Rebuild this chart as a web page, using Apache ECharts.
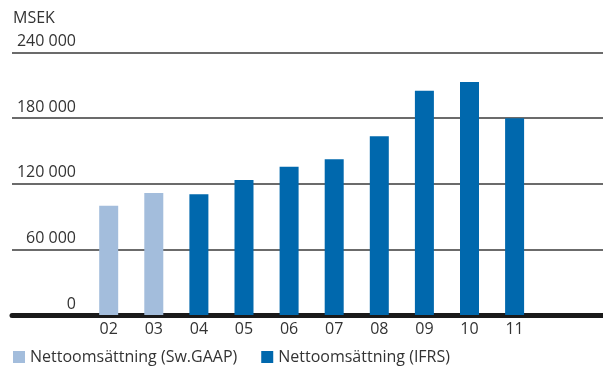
<!DOCTYPE html>
<html>
<head>
<meta charset="utf-8">
<script src="https://cdn.jsdelivr.net/npm/echarts@6/dist/echarts.min.js"></script>
<style>
  html, body { margin: 0; padding: 0; background: #fff; }
  #chart { width: 603px; height: 368px; }
</style>
</head>
<body>
<div id="chart"></div>
<script>
// Net sales per year, MSEK
const years = ['02', '03', '04', '05', '06', '07', '08', '09', '10', '11'];
const salesSwGaap = [100000, 111500, null, null, null, null, null, null, null, null];
const salesIfrs = [null, null, 110500, 123500, 135500, 142500, 163500, 205000, 213000, 180000];
const yTicks = [0, 60000, 120000, 180000, 240000];

const seriesNames = ['Nettoomsättning (Sw.GAAP)', 'Nettoomsättning (IFRS)'];
const colors = ['#a3bddc', '#0068ad'];
const font = '"Open Sans", Roboto, sans-serif';
const textColor = '#333';
const fontSize = 16;

const toPairs = arr => arr.map((v, i) => [i, v]);

const fmt = v => String(v).replace(/\B(?=(\d{3})+(?!\d))/g, ' ');

const chart = echarts.init(document.getElementById('chart'), null, { renderer: 'canvas' });
chart.setOption({
  animation: false,
  backgroundColor: '#fff',
  textStyle: { fontFamily: font, color: textColor },
  title: {
    text: 'MSEK',
    left: 8,
    top: 5,
    textStyle: { fontFamily: font, fontSize: fontSize, fontWeight: 'normal', color: textColor }
  },
  legend: {
    left: 8,
    top: 344,
    itemWidth: 12,
    itemHeight: 12,
    itemGap: 24,
    icon: 'rect',
    textStyle: { fontFamily: font, fontSize: fontSize, color: textColor },
    data: seriesNames
  },
  grid: { left: 12, right: 0, top: 52.5, bottom: 53, containLabel: false },
  xAxis: {
    type: 'value',
    min: -2.144,
    max: 10.96,
    splitLine: { show: false },
    axisTick: { show: false },
    axisLine: { show: true, onZero: false, lineStyle: { color: '#1a1a1a', width: 5 } },
    axisLabel: {
      customValues: years.map((_, i) => i),
      formatter: v => years[Math.round(v)] ?? '',
      fontFamily: font,
      fontSize: fontSize,
      color: textColor,
      margin: 6
    }
  },
  yAxis: {
    type: 'value',
    min: yTicks[0],
    max: yTicks[yTicks.length - 1],
    interval: yTicks[1] - yTicks[0],
    axisLine: { show: false },
    axisTick: { show: false },
    splitLine: { show: true, lineStyle: { color: '#3a3a3a', width: 1.5 } },
    axisLabel: {
      inside: true,
      align: 'right',
      verticalAlign: 'bottom',
      margin: 64,
      padding: [0, 0, 3, 0],
      formatter: v => fmt(v),
      fontFamily: font,
      fontSize: fontSize,
      color: textColor
    }
  },
  series: [
    {
      name: seriesNames[0],
      type: 'bar',
      stack: 'sales',
      barWidth: 19,
      itemStyle: { color: colors[0] },
      data: toPairs(salesSwGaap)
    },
    {
      name: seriesNames[1],
      type: 'bar',
      stack: 'sales',
      barWidth: 19,
      itemStyle: { color: colors[1] },
      data: toPairs(salesIfrs)
    }
  ]
});
</script>
</body>
</html>
